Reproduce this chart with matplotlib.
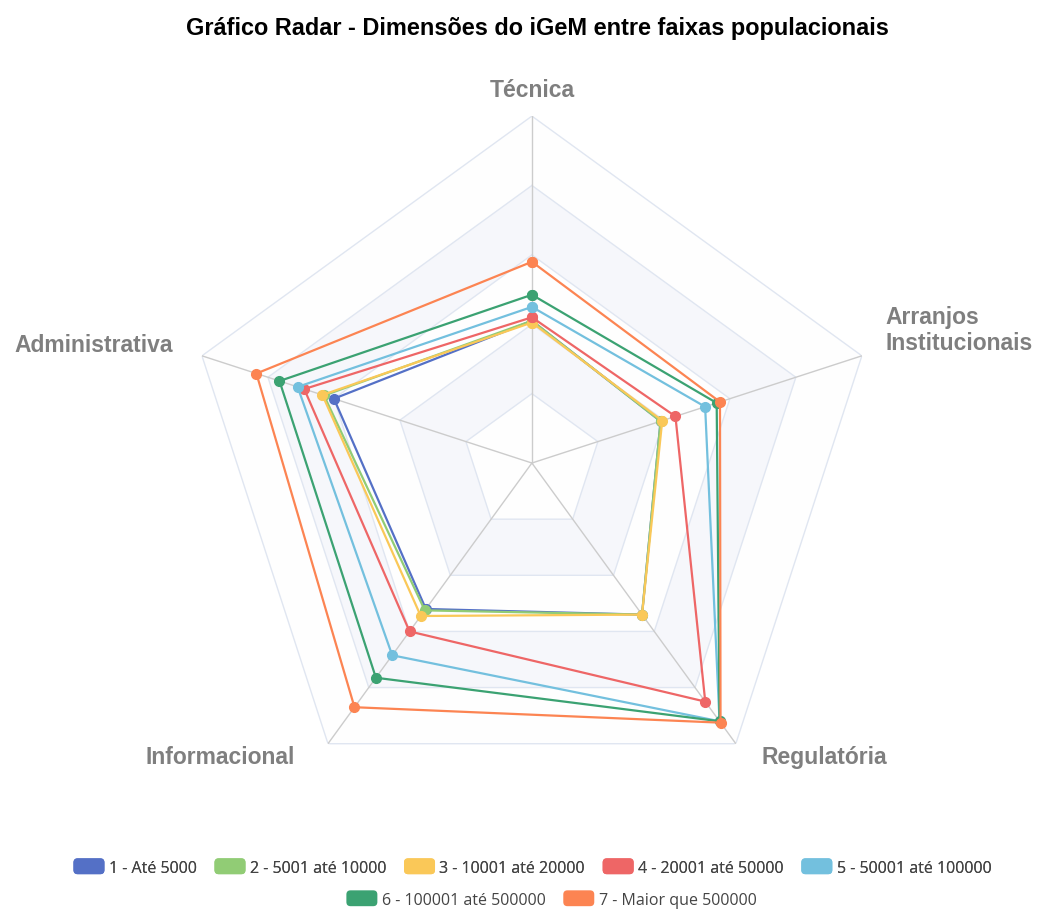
"""Radar chart of iGeM dimensions by population range."""
import numpy as np
import matplotlib
matplotlib.use('Agg')
import matplotlib.pyplot as plt
from matplotlib.patches import Patch, FancyBboxPatch
from matplotlib.legend_handler import HandlerPatch

# Indicators, counter-clockwise starting from the top
indicators = ['Técnica', 'Administrativa', 'Informacional', 'Regulatória',
              'Arranjos\nInstitucionais']

series_names = ['1 - Até 5000', '2 - 5001 até 10000', '3 - 10001 até 20000',
                '4 - 20001 até 50000', '5 - 50001 até 100000',
                '6 - 100001 até 500000', '7 - Maior que 500000']

ate_5000 = [0.41, 0.60, 0.52, 0.54, 0.39]
ate_10000 = [0.41, 0.63, 0.525, 0.54, 0.39]
ate_20000 = [0.405, 0.635, 0.545, 0.54, 0.395]
ate_50000 = [0.42, 0.69, 0.60, 0.85, 0.435]
ate_100000 = [0.45, 0.71, 0.685, 0.92, 0.525]
ate_500000 = [0.485, 0.765, 0.765, 0.92, 0.56]
maior_500000 = [0.58, 0.835, 0.87, 0.925, 0.57]

values = [ate_5000, ate_10000, ate_20000, ate_50000, ate_100000,
          ate_500000, maior_500000]

colors = ['#5470c6', '#91cc75', '#fac858', '#ee6666', '#73c0de',
          '#3ba272', '#fc8452']


def rounded_patch(legend, orig_handle, xdescent, ydescent, width, height,
                  fontsize):
    return FancyBboxPatch((-xdescent, -ydescent), width, height,
                          boxstyle='round,pad=0,rounding_size=3',
                          mutation_aspect=1)


fig = plt.figure(figsize=(10.45, 9.12), dpi=100)
ax = fig.add_axes([0.177, 0.1107, 0.664, 0.761], projection='polar')
ax.set_theta_offset(np.pi / 2)
ax.set_theta_direction(1)
ax.set_ylim(0, 1)
ax.set_axis_off()

n = len(indicators)
theta = np.linspace(0, 2 * np.pi, n, endpoint=False)
theta_closed = np.append(theta, theta[0])

# split areas and rings
band_colors = ['#fefefe', '#f6f7fb']
for i, r in enumerate([1.0, 0.8, 0.6, 0.4, 0.2]):
    ax.fill(theta_closed, [r] * (n + 1), color=band_colors[i % 2],
            zorder=0, lw=0)
    ax.plot(theta_closed, [r] * (n + 1), color='#e0e6f1', lw=1, zorder=1)
for t in theta:
    ax.plot([t, t], [0, 1], color='#cccccc', lw=1, zorder=1)

for name, vals, color in zip(series_names, values, colors):
    ax.plot(theta_closed, vals + vals[:1], color=color, lw=1.6,
            marker='o', markersize=7, clip_on=False, label=name, zorder=3)

# indicator names
offsets = [((0, 27), 'center'), ((-29, 11), 'right'), ((-33, -13), 'right'),
           ((26, -13), 'left'), ((24, 26), 'left')]
for t, label, (off, ha) in zip(theta, indicators, offsets):
    ax.annotate(label, xy=(t, 1), xytext=(off[0] * 0.72, off[1] * 0.72),
                textcoords='offset points', ha=ha, va='center',
                fontsize=16.5, fontweight='bold', color='#7f7f7f',
                family='Liberation Sans', linespacing=1.15)

fig.text(537.5 / 1045, 1 - 28 / 912, 'Gráfico Radar - Dimensões do iGeM '
         'entre faixas populacionais', ha='center', va='center',
         fontsize=16.9, fontweight='bold', family='Liberation Sans',
         color='black')

handles = [Patch(facecolor=c, edgecolor='none') for c in colors]
legend_kw = dict(frameon=False, handlelength=1.94, handleheight=1.15,
                 handletextpad=0.28, columnspacing=1.1,
                 handler_map={Patch: HandlerPatch(patch_func=rounded_patch)},
                 prop={'family': 'Open Sans', 'size': 11.5})
leg1 = fig.legend(handles[:5], series_names[:5], ncol=5, loc='center',
                  bbox_to_anchor=(532.5 / 1045, 1 - 868 / 912), **legend_kw)
for txt in leg1.get_texts():
    txt.set_color('#444444')
fig.add_artist(leg1)
leg2 = fig.legend(handles[5:], series_names[5:], ncol=2, loc='center',
                  bbox_to_anchor=(551.5 / 1045, 1 - 900 / 912), **legend_kw)
for txt in leg2.get_texts():
    txt.set_color('#444444')

fig.savefig('out.png', dpi=100, facecolor='white')
